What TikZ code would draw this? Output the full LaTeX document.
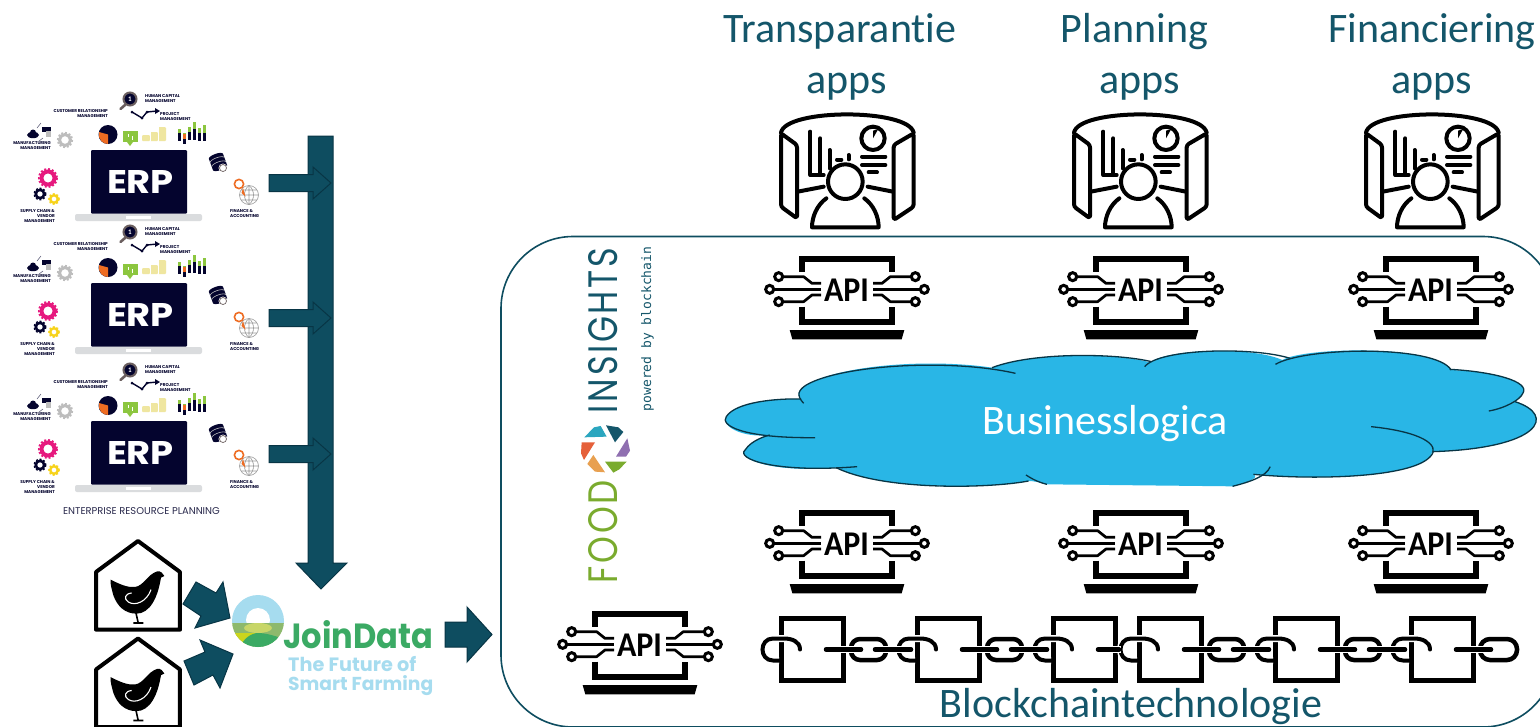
\documentclass[tikz,border=0pt]{standalone}
\usepackage{fontspec}
\usepackage{graphicx}
\setmainfont[Ligatures=NoCommon]{Carlito}
\newfontfamily\popfont{Poppins}
\newfontfamily\popspaced[LetterSpace=8]{Poppins}
\newfontfamily\monofnt{DejaVu Sans Mono}
\definecolor{teal}{HTML}{0E4D60}
\definecolor{tealedge}{HTML}{083545}
\definecolor{txtteal}{HTML}{14566A}
\definecolor{cloudblue}{HTML}{29B6E6}
\definecolor{navy}{HTML}{04042E}
\definecolor{lapgrey}{HTML}{DADCDE}
\definecolor{jgreen}{HTML}{3BAA64}
\definecolor{jblue}{HTML}{A6DCEF}
\definecolor{jolive}{HTML}{8DB96D}
\definecolor{jpale}{HTML}{C8D668}
\definecolor{jyellow}{HTML}{CBD51C}
\definecolor{foodgreen}{HTML}{7AAB2E}
\definecolor{pinkg}{HTML}{E6197E}
\definecolor{yellowg}{HTML}{F7D31B}
\definecolor{greyg}{HTML}{BDBDBD}
\definecolor{orangeg}{HTML}{EE6C22}
\definecolor{coin}{HTML}{EFE6A0}
\definecolor{barg}{HTML}{8CC63F}
\definecolor{brownr}{HTML}{6B5F5F}
\definecolor{aptteal}{HTML}{2BA6BF}
\definecolor{aptpurple}{HTML}{8F6FB0}
\definecolor{aptorange}{HTML}{E8A050}
\definecolor{aptred}{HTML}{E5603A}
\tikzset{
  x=1pt,y=-1pt,
  blockarrow/.style={fill=teal,draw=tealedge,line width=1pt,line join=miter},
  headtext/.style={text=txtteal,font=\fontsize{42}{46}\selectfont,inner sep=0pt,anchor=base},
  tinytxt/.style={inner sep=0pt,text=navy,font=\popfont\bfseries\fontsize{4.2}{5}\selectfont},
  iconline/.style={black,line width=4pt,line cap=round,line join=round},
  apiline/.style={black,line width=2.7pt,line join=round},
  apps/.pic={
    \begin{scope}[scale=0.3333,shift={(-320,-240)},iconline]
      \draw (122,128) .. controls (135,55) and (505,55) .. (520,128);
      \draw[rounded corners=2.5pt] (122,130) -- (122,350) -- (170,385) -- (170,165) -- cycle;
      \draw[rounded corners=2.5pt] (520,130) -- (520,350) -- (460,390) -- (460,165) -- cycle;
      \draw (210,125) -- (210,255) -- (250,255);
      \draw (240,145) -- (240,255);
      \draw (268,180) -- (268,235);
      \draw (290,209) -- (303,209);
      \draw (325,195) -- (325,208);
      \draw (398,145) circle[radius=35];
      \fill[black] (398,145) -- (398,122) arc[start angle=90,end angle=20,radius=23] -- cycle;
      \draw (365,200) -- (435,200);
      \draw (365,225) -- (435,225);
      \draw (385,247) -- (410,247);
      \draw (315,275) circle[radius=52];
      \draw (258,325) .. controls (230,345) and (215,380) .. (215,412) -- (415,412) .. controls (415,380) and (400,345) .. (372,325);
      \draw (172,305) -- (250,290);
      \draw (382,290) -- (458,305);
    \end{scope}
  },
  apiicon/.pic={
    \begin{scope}[scale=0.3333,shift={(-320,-600)}]
      \draw[black,line width=6pt,line join=miter] (184,545) -- (184,506) -- (456,506) -- (456,545);
      \draw[black,line width=6pt,line join=miter] (184,650) -- (184,695) -- (456,695) -- (456,650);
      \fill[black] (148,720) -- (492,720) -- (484,748) -- (156,748) -- cycle;
      \foreach \s in {1,-1}{
        \begin{scope}[shift={(320,600)},xscale=\s]
          \draw[apiline] (-192,-40) -- (-130,-40) -- (-105,-20) -- (-78,-20);
          \draw[apiline] (-220,-2) -- (-78,-2);
          \draw[apiline] (-192,35) -- (-130,35) -- (-105,15) -- (-78,15);
          \draw[black,line width=3pt] (-205,-40) circle[radius=12];
          \draw[black,line width=3pt] (-232,-2) circle[radius=12];
          \draw[black,line width=3pt] (-205,35) circle[radius=12];
        \end{scope}
      }
    \end{scope}
    \node[inner sep=0pt,text=black,font=\bfseries\fontsize{33}{33}\selectfont] (-lbl) at (-0.5,0) {\resizebox{45pt}{22.5pt}{API}};
  },
  chainsq/.pic={
    \draw[black,line width=5pt,line join=miter] (2.5,-31) rectangle (64.5,31);
    \draw[white,line width=7pt] (19,0) .. controls (19,-8) and (12,-11) .. (5,-11) -- (-6,-11) .. controls (-20,-11) and (-20,11) .. (-6,11) -- (0,11);
    \draw[black,line width=4pt,line cap=round] (21,0) .. controls (21,-8) and (13,-11) .. (5,-11) -- (-6,-11) .. controls (-20,-11) and (-20,11) .. (-6,11) -- (0,11);
  },
  chainshort/.pic={
    \draw[white,line width=7pt] (47,0) -- (70,0);
    \draw[black,line width=4.5pt,line cap=round] (47,0) -- (68,0);
  },
  chainlong/.pic={
    \draw[black,line width=4.5pt,rounded corners=9pt] (72,-10.5) rectangle (107,10.5);
    \draw[white,line width=7pt] (47,0) -- (84,0);
    \draw[black,line width=4.5pt,line cap=round] (47,0) -- (82,0);
    \draw[white,line width=7pt] (97,0) -- (133,0);
    \draw[black,line width=4.5pt,line cap=round] (96,0) -- (132,0);
  },
  chainend/.pic={
    \draw[black,line width=4.5pt,rounded corners=10pt] (71,-10.5) rectangle (108,10.5);
    \draw[white,line width=7pt] (47,0) -- (84,0);
    \draw[black,line width=4.5pt,line cap=round] (47,0) -- (82,0);
  },
  chicken/.pic={
    \begin{scope}[scale=0.3333,shift={(-204,-32)}]
      \draw[black,line width=4pt,line join=round] (204,32) -- (330,125) -- (330,298) -- (78,298) -- (78,125) -- cycle;
      \fill[black] (122,148) .. controls (150,162) and (172,172) .. (195,170)
        .. controls (222,166) and (232,132) .. (262,123) .. controls (272,121) and (280,130) .. (283,137)
        -- (273,142) .. controls (268,170) and (262,195) .. (248,218)
        .. controls (236,238) and (218,250) .. (200,250) .. controls (165,250) and (142,228) .. (130,195)
        .. controls (126,178) and (120,162) .. cycle;
      \draw[white,line width=1.1pt] (185,188) .. controls (165,190) and (160,205) .. (175,215) .. controls (195,228) and (230,215) .. (243,178);
      \draw[black,line width=1.6pt] (198,248) -- (204,275) (190,278) -- (220,278);
    \end{scope}
  },
  gear/.pic={
    \draw[gearcol,line width=\gearw pt] (0,0) circle[radius=\gearr];
    \draw[gearcol,line width=\gearw pt*0.55,dash pattern=on 1.9pt off 1.9pt] (0,0) circle[radius=\gearr+\gearw*0.6];
  },
  erp/.pic={
    \draw[brownr,line width=2.6pt,line cap=round] (125,105) -- (120.5,109);
    \draw[brownr,line width=2pt,fill=navy] (130,99) circle[radius=6.5];
    \node[inner sep=0pt,text=white,font=\bfseries\fontsize{7}{7}\selectfont] (-one) at (130,99) {1};
    \node[tinytxt,anchor=west,align=left] (-hc) at (145,98.5) {HUMAN CAPITAL\\MANAGEMENT};
    \draw[navy,line width=1.4pt] (132,112) -- (142,118) -- (147,112) -- (157,111);
    \fill[navy] (160,111) -- (155,108) -- (155,114) -- cycle;
    \fill[navy] (132,112) circle[radius=1.5] (142,118) circle[radius=1.5] (147,112) circle[radius=1.5];
    \node[tinytxt,anchor=west,align=left] (-pm) at (160,116.5) {PROJECT\\MANAGEMENT};
    \node[tinytxt,anchor=east,align=right] (-cr) at (108,113.5) {CUSTOMER RELATIONSHIP\\MANAGEMENT};
    \fill[navy] (108,134.5) circle[radius=9.5];
    \fill[orangeg] (108,134.5) -- (99,132) arc[start angle=195,end angle=90,radius=9.5] -- cycle;
    \fill[barg] (122.5,131) rectangle (137.5,142);
    \fill[barg] (127,142) -- (133,142) -- (130,146) -- cycle;
    \draw[white,line width=0.8pt] (128,134) -- (128,137) (132,136) -- (132,140);
    \fill[coin,rounded corners=1pt] (142,135) rectangle (150,141) (150,132) rectangle (158,141) (158,127) rectangle (166,141);
    \draw[white,line width=0.5pt] (150,132) -- (150,141) (158,127) -- (158,141);
    \foreach \xx/\tp/\gr in {177.5/129/133,182.5/133/136,187.5/127/132,192.5/122/129,197.5/128/133,202.5/125/133}{
      \fill[navy] (\xx,\gr) rectangle ++(3.6,7.5);
      \fill[navy] (\xx,\gr+7) rectangle (\xx+3.6,140);
      \fill[barg] (\xx,\tp) rectangle (\xx+3.6,\gr);
    }
    \fill[orangeg] (182.5,134) rectangle ++(3.6,5);
    \fill[navy] (33,135) ellipse[x radius=6,y radius=3.2];
    \fill[navy] (33,132.5) circle[radius=3];
    \fill[navy] (42,127) rectangle (51,132);
    \fill[greyg] (46,131) rectangle (51,137);
    \draw[navy!60,line width=0.6pt] (37,128) -- (41,123) (43,138) -- (39,141);
    \def\gearr{5.5}\def\gearw{3}\colorlet{gearcol}{greyg}
    \pic at (65,140) {gear};
    \node[tinytxt,anchor=east,align=right] (-mm) at (51,146) {MANUFACTURING\\MANAGEMENT};
    \def\gearr{6.5}\def\gearw{4}\colorlet{gearcol}{pinkg}
    \pic at (48,178) {gear};
    \def\gearr{4.2}\def\gearw{2.6}\colorlet{gearcol}{navy}
    \pic at (40,194) {gear};
    \def\gearr{3.8}\def\gearw{2.4}\colorlet{gearcol}{yellowg}
    \pic at (54,199) {gear};
    \node[tinytxt,anchor=east,align=right] (-sc) at (55,216) {SUPPLY CHAIN \&\\VENDOR\\MANAGEMENT};
    \fill[lapgrey,rounded corners=2pt] (75,214) rectangle (202,221);
    \fill[white] (126,216) rectangle (151,219);
    \fill[navy,rounded corners=1pt] (91,150) rectangle (187,213.5);
    \node[inner sep=0pt,text=white,font=\popfont\fontsize{33}{33}\selectfont] (-erp) at (140.5,182) {\bfseries\resizebox{67pt}{23pt}{ERP}};
    \begin{scope}[shift={(218,162)},rotate=20]
      \fill[navy] (-7.5,-6) rectangle (7.5,6);
      \fill[navy] (0,6) ellipse[x radius=7.5,y radius=2.5];
      \fill[navy] (0,-6) ellipse[x radius=7.5,y radius=2.5];
      \draw[greyg,line width=0.6pt] (-7.5,-2) arc[start angle=180,end angle=360,x radius=7.5,y radius=2.5];
      \draw[greyg,line width=0.6pt] (-7.5,2.5) arc[start angle=180,end angle=360,x radius=7.5,y radius=2.5];
    \end{scope}
    \fill[white] (223,168) circle[radius=4.5];
    \draw[brownr,line width=0.7pt] (223,168) circle[radius=3.5];
    \draw[gray!80,line width=0.6pt] (249,195) circle[radius=9.5] (249,185.5) -- (249,204.5) (239.5,195) -- (258.5,195) (241,190) -- (257,190) (241,200) -- (257,200);
    \draw[gray!80,line width=0.6pt] (249,185.5) .. controls (243,190) and (243,200) .. (249,204.5);
    \draw[gray!80,line width=0.6pt] (249,185.5) .. controls (255,190) and (255,200) .. (249,204.5);
    \fill[orangeg] (241.5,193) -- (245.5,196.5) -- (243,188) -- cycle;
    \draw[orangeg,line width=1.6pt,fill=white] (239,184) circle[radius=4.6];
    \node[tinytxt,anchor=west,align=left] (-fa) at (230,213.5) {FINANCE \&\\ACCOUNTING};
  }
}
\begin{document}
\begin{tikzpicture}
\useasboundingbox (0,0) rectangle (1540,726);
\clip (0,0) rectangle (1540,726);
\fill[white] (0,0) rectangle (1540,726);

% ERP stacks
\begin{scope}
  \clip (0,0) rectangle (268,222);
  \pic (e1) at (0,0) {erp};
\end{scope}
\pic (e2) at (0,133) {erp};
\pic (e3) at (0,271) {erp};
\node[inner sep=0pt,text=navy!85,font=\popfont\fontsize{9.9}{11}\selectfont] (erpcap) at (141.5,511.5) {ENTERPRISE RESOURCE PLANNING};

% big arrow
\draw[blockarrow] (308,136) -- (333,136) -- (333,563) -- (347,563) -- (321,589) -- (296,563) -- (308,563) -- cycle;
\foreach \yy in {183,318,454}{
  \draw[blockarrow] (269,\yy-8.5) -- (313,\yy-8.5) -- (313,\yy-16) -- (331,\yy) -- (313,\yy+16) -- (313,\yy+8.5) -- (269,\yy+8.5) -- cycle;
}

% chicken houses
\pic (h1) at (138,541) {chicken};
\pic (h2) at (138,638.5) {chicken};
\draw[blockarrow] (183,604) -- (196,582) -- (216,593) -- (223,582) -- (230,618) -- (195,628) -- (201,616) -- cycle;
\draw[blockarrow] (184,661) -- (205,652) -- (200,640) -- (233,654) -- (220,688) -- (213,675) -- (194,685) -- cycle;

% JoinData logo
\begin{scope}
  \clip (258,621) circle[radius=26];
  \fill[jblue] (230,593) rectangle (286,623);
  \fill[white] (258,620) circle[radius=12];
  \fill[jolive] (230,623) rectangle (286,650);
  \fill[jpale] (258,628) ellipse[x radius=14,y radius=5];
  \fill[jyellow] (230,633) -- (256,633) -- (238,650) -- (230,650) -- cycle;
  \fill[jgreen] (240,648) .. controls (243,638) and (252,633) .. (258,633) .. controls (266,633) and (276,636) .. (286,640) -- (286,650) -- cycle;
\end{scope}
\node[inner sep=0pt,anchor=base west,text=jgreen,font=\popfont\bfseries\fontsize{37}{40}\selectfont] (jd) at (283,648) {\resizebox{150pt}{28pt}{JoinData}};
\node[inner sep=0pt,anchor=base west,text=jblue,font=\popfont\bfseries\fontsize{20}{22}\selectfont] (jd2) at (288,671) {\resizebox{128pt}{!}{The Future of}};
\node[inner sep=0pt,anchor=base west,text=jblue,font=\popfont\bfseries\fontsize{20}{22}\selectfont] (jd3) at (288,690) {\resizebox{145pt}{!}{Smart Farming}};
\draw[blockarrow] (445,622) -- (467,622) -- (467,607) -- (492,634.5) -- (467,662) -- (467,647) -- (445,647) -- cycle;

% platform frame
\draw[teal,line width=1.6pt,rounded corners=72pt] (501,236.5) rectangle (1555,727);

% FOOD INSIGHTS
\node[inner sep=0pt,rotate=90,text=foodgreen] (food) at (603.5,531.5) {\popspaced\resizebox{103pt}{29pt}{FOOD}};
\node[inner sep=0pt,rotate=90,text=txtteal] (insights) at (603.5,330.5) {\popspaced\resizebox{165pt}{29pt}{INSIGHTS}};
\node[inner sep=0pt,rotate=90,text=txtteal,font=\monofnt\fontsize{13}{14}\selectfont] (powered) at (647.5,329) {powered by blockchain};
\begin{scope}[shift={(570,240)},scale=0.3333]
  \fill[aptteal] (43,592) -- (72,562) -- (92,558) -- (110,590) -- cycle;
  \fill[txtteal] (108,556) -- (145,562) -- (160,576) -- (135,607) -- cycle;
  \fill[aptpurple] (172,595) -- (180,632) -- (168,650) -- (138,650) -- cycle;
  \fill[foodgreen] (105,665) -- (170,665) -- (148,688) -- (130,698) -- cycle;
  \fill[aptorange] (70,645) -- (105,697) -- (75,695) -- (52,672) -- cycle;
  \fill[aptred] (75,607) -- (42,660) -- (33,640) -- (35,607) -- cycle;
\end{scope}

% headings
\node[headtext] (t1) at (840,42) {Transparantie};
\node[headtext] (t1b) at (847,93) {apps};
\node[headtext] (t2) at (1134.5,42) {Planning};
\node[headtext] (t2b) at (1140,93) {apps};
\node[headtext] (t3) at (1432,42) {Financiering};
\node[headtext] (t3b) at (1432,93) {apps};

% app icons
\pic (a1) at (847,170) {apps};
\pic (a2) at (1140,170) {apps};
\pic (a3) at (1432,170) {apps};

% API rows
\pic (p1) at (847,290) {apiicon};
\pic (p2) at (1141,290) {apiicon};
\pic (p3) at (1431,290) {apiicon};
\pic (q1) at (847,544) {apiicon};
\pic (q2) at (1141,544) {apiicon};
\pic (q3) at (1431,544) {apiicon};
\pic (r1) at (640,645) {apiicon};

% cloud
\begin{scope}[shift={(720,345)},xscale=0.523,yscale=0.3333]
  \fill[cloudblue] (155,162) .. controls (145,150) and (150,135) .. (165,120) .. controls (230,60) and (400,40) .. (520,68)
    .. controls (600,20) and (760,25) .. (822,52)
    .. controls (860,10) and (1020,5) .. (1075,45) .. controls (1120,5) and (1370,0) .. (1398,75)
    .. controls (1480,80) and (1550,110) .. (1535,145) -- (1522,170) .. controls (1600,210) and (1570,310) .. (1362,320)
    -- (1358,335) .. controls (1320,400) and (1130,405) .. (1020,388) .. controls (1035,400) and (1000,415) .. (980,424) -- (625,418)
    .. controls (610,412) and (600,408) .. (590,408) .. controls (550,420) and (480,426) .. (420,423)
    .. controls (350,420) and (270,405) .. (222,368) .. controls (100,385) and (30,340) .. (48,315)
    .. controls (60,285) and (90,272) .. (95,270) .. controls (40,280) and (0,240) .. (12,215)
    .. controls (30,170) and (110,160) .. cycle;
  \begin{scope}[draw=tealedge,line width=1.3pt]
    \draw (160,175) .. controls (145,150) and (150,135) .. (165,120) .. controls (230,60) and (440,40) .. (565,85);
    \draw (520,68) .. controls (600,20) and (760,25) .. (825,50);
    \draw (812,65) .. controls (840,10) and (1020,5) .. (1090,40);
    \draw (1062,58) .. controls (1120,5) and (1370,0) .. (1398,75);
    \draw (1395,73) .. controls (1480,80) and (1550,110) .. (1535,145) .. controls (1530,165) and (1500,190) .. (1470,198);
    \draw (1520,170) .. controls (1600,210) and (1570,310) .. (1362,320);
    \draw (1245,245) .. controls (1340,260) and (1380,300) .. (1358,335) .. controls (1320,400) and (1130,405) .. (1020,388);
    \draw (1052,365) .. controls (1045,395) and (1010,412) .. (980,424);
    \draw (585,390) .. controls (600,405) and (610,412) .. (625,418);
    \draw (420,423) .. controls (480,426) and (550,420) .. (590,408);
    \draw (222,368) .. controls (270,405) and (350,420) .. (420,423);
    \draw (262,365) .. controls (100,385) and (30,340) .. (48,315) .. controls (60,285) and (90,272) .. (95,270);
    \draw (182,278) .. controls (40,280) and (0,240) .. (12,215) .. controls (30,170) and (110,160) .. (155,162);
  \end{scope}
\end{scope}
\node[headtext,text=white] (biz) at (1105,434) {Businesslogica};

% chain
\pic (c1) at (779,649.5) {chainsq};
\pic (c2) at (915,649.5) {chainsq};
\pic (c3) at (1051,649.5) {chainsq};
\pic (c4) at (1137,649.5) {chainsq};
\pic (c5) at (1273,649.5) {chainsq};
\pic (c6) at (1409,649.5) {chainsq};
\pic (l1) at (779,649.5) {chainlong};
\pic (l2) at (915,649.5) {chainlong};
\pic (l3) at (1051,649.5) {chainshort};
\pic (l4) at (1137,649.5) {chainlong};
\pic (l5) at (1273,649.5) {chainlong};
\pic (l6) at (1409,649.5) {chainend};

\node[headtext] (chaintxt) at (1131,717) {Blockchaintechnologie};
\end{tikzpicture}
\end{document}
